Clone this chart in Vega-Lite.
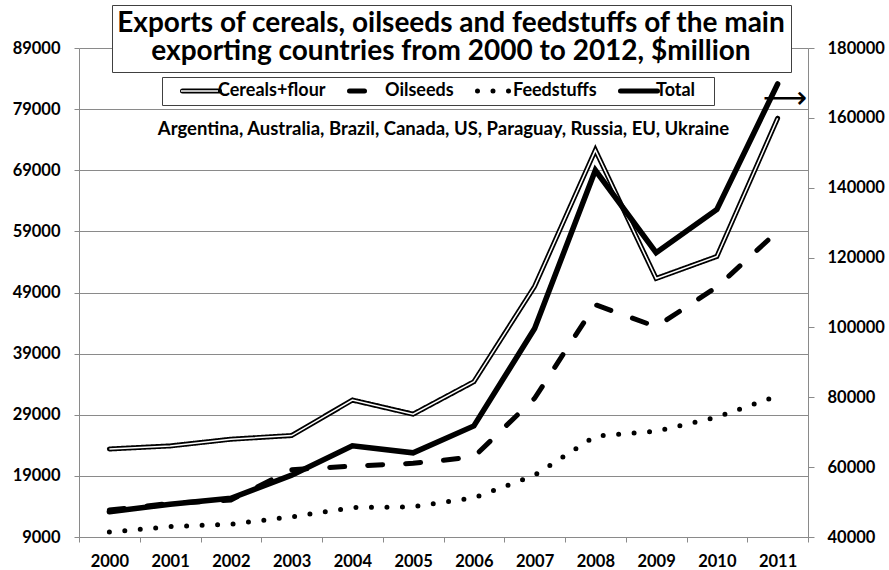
{
  "$schema": "https://vega.github.io/schema/vega-lite/v6.json",
  "width": 729,
  "height": 489,
  "autosize": {"type": "none"},
  "padding": {"left": 79, "top": 48, "right": 81, "bottom": 33},
  "background": "white",
  "config": {
    "font": "Lato",
    "view": {"stroke": null},
    "axis": {
      "labelFont": "Lato",
      "labelFontSize": 16.5,
      "labelFontWeight": "bold",
      "labelColor": "black",
      "domainColor": "#8a8a8a",
      "tickColor": "#8a8a8a",
      "gridColor": "#8a8a8a",
      "gridWidth": 1,
      "title": null
    }
  },
  "title": {
    "text": "Argentina, Australia, Brazil, Canada, US, Paraguay, Russia, EU, Ukraine",
    "font": "Lato",
    "fontSize": 18.5,
    "fontWeight": "bold",
    "color": "black",
    "anchor": "middle",
    "frame": "group",
    "baseline": "alphabetic",
    "offset": -149
  },
  "data": {
    "values": [
      {"year": "2000", "series": "Cereals+flour", "value": 23400},
      {"year": "2001", "series": "Cereals+flour", "value": 23900},
      {"year": "2002", "series": "Cereals+flour", "value": 25000},
      {"year": "2003", "series": "Cereals+flour", "value": 25600},
      {"year": "2004", "series": "Cereals+flour", "value": 31400},
      {"year": "2005", "series": "Cereals+flour", "value": 29100},
      {"year": "2006", "series": "Cereals+flour", "value": 34400},
      {"year": "2007", "series": "Cereals+flour", "value": 50000},
      {"year": "2008", "series": "Cereals+flour", "value": 72300},
      {"year": "2009", "series": "Cereals+flour", "value": 51300},
      {"year": "2010", "series": "Cereals+flour", "value": 54900},
      {"year": "2011", "series": "Cereals+flour", "value": 77500},
      {"year": "2000", "series": "Oilseeds", "value": 13400},
      {"year": "2001", "series": "Oilseeds", "value": 14500},
      {"year": "2002", "series": "Oilseeds", "value": 15050},
      {"year": "2003", "series": "Oilseeds", "value": 20000},
      {"year": "2004", "series": "Oilseeds", "value": 20600},
      {"year": "2005", "series": "Oilseeds", "value": 21050},
      {"year": "2006", "series": "Oilseeds", "value": 22100},
      {"year": "2007", "series": "Oilseeds", "value": 31700},
      {"year": "2008", "series": "Oilseeds", "value": 47000},
      {"year": "2009", "series": "Oilseeds", "value": 43400},
      {"year": "2010", "series": "Oilseeds", "value": 49900},
      {"year": "2011", "series": "Oilseeds", "value": 59000},
      {"year": "2000", "series": "Feedstuffs", "value": 9800},
      {"year": "2001", "series": "Feedstuffs", "value": 10700},
      {"year": "2002", "series": "Feedstuffs", "value": 11100},
      {"year": "2003", "series": "Feedstuffs", "value": 12300},
      {"year": "2004", "series": "Feedstuffs", "value": 13800},
      {"year": "2005", "series": "Feedstuffs", "value": 13950},
      {"year": "2006", "series": "Feedstuffs", "value": 15400},
      {"year": "2007", "series": "Feedstuffs", "value": 19100},
      {"year": "2008", "series": "Feedstuffs", "value": 25500},
      {"year": "2009", "series": "Feedstuffs", "value": 26300},
      {"year": "2010", "series": "Feedstuffs", "value": 28600},
      {"year": "2011", "series": "Feedstuffs", "value": 32100},
      {"year": "2000", "series": "Total", "value": 47200},
      {"year": "2001", "series": "Total", "value": 49400},
      {"year": "2002", "series": "Total", "value": 51100},
      {"year": "2003", "series": "Total", "value": 57700},
      {"year": "2004", "series": "Total", "value": 66100},
      {"year": "2005", "series": "Total", "value": 64100},
      {"year": "2006", "series": "Total", "value": 71800},
      {"year": "2007", "series": "Total", "value": 99700},
      {"year": "2008", "series": "Total", "value": 145000},
      {"year": "2009", "series": "Total", "value": 121400},
      {"year": "2010", "series": "Total", "value": 133800},
      {"year": "2011", "series": "Total", "value": 169700}
    ]
  },
  "encoding": {
    "x": {
      "field": "year",
      "type": "ordinal",
      "scale": {"type": "band", "paddingInner": 0, "paddingOuter": 0},
      "axis": {
        "labelAngle": 0,
        "tickBand": "extent",
        "tickSize": 5,
        "labelPadding": 11,
        "grid": false
      }
    }
  },
  "layer": [
    {
      "encoding": {
        "y": {
          "field": "value",
          "type": "quantitative",
          "scale": {"domain": [9000, 89000], "nice": false, "zero": false},
          "axis": {
            "orient": "left",
            "values": [9000, 19000, 29000, 39000, 49000, 59000, 69000, 79000, 89000],
            "format": "d",
            "grid": true,
            "tickSize": 5,
            "labelPadding": 14,
            "labelFlush": false
          }
        }
      },
      "layer": [
        {
          "transform": [{"filter": "datum.series != 'Total'"}],
          "mark": {"type": "line", "strokeWidth": 5, "strokeCap": "round"},
          "encoding": {
            "color": {
              "field": "series",
              "type": "nominal",
              "scale": {
                "domain": ["Cereals+flour", "Oilseeds", "Feedstuffs", "Total"],
                "range": ["black", "black", "black", "black"]
              },
              "legend": {
                "orient": "none",
                "legendX": 83,
                "legendY": 29,
                "direction": "horizontal",
                "columns": 4,
                "title": " ",
                "titleOrient": "left",
                "titleFontSize": 16,
                "titlePadding": 13,
                "symbolType": "stroke",
                "symbolSize": 1369,
                "symbolStrokeWidth": 5,
                "clipHeight": 18,
                "labelFont": "Lato",
                "labelFontSize": 18,
                "labelFontWeight": "bold",
                "labelColor": "black",
                "labelOffset": -4,
                "labelLimit": 400,
                "labelExpr": "datum.label == 'Total' ? 'Total\u2800' : datum.label",
                "columnPadding": 21,
                "padding": 5,
                "strokeColor": "#404040",
                "fillColor": "white",
                "encoding": {"symbols": {"strokeCap": {"value": "round"}}}
              }
            },
            "strokeDash": {
              "field": "series",
              "type": "nominal",
              "scale": {
                "domain": ["Cereals+flour", "Oilseeds", "Feedstuffs", "Total"],
                "range": [[1, 0], [15, 23], [0, 15.5], [1, 0]]
              }
            }
          }
        },
        {
          "transform": [{"filter": "datum.series == 'Cereals+flour'"}],
          "mark": {"type": "line", "strokeWidth": 1.5},
          "encoding": {
            "stroke": {
              "field": "series",
              "type": "nominal",
              "scale": {"domain": ["Cereals+flour"], "range": ["white"]},
              "legend": {
                "orient": "none",
                "legendX": 83,
                "legendY": 29,
                "direction": "horizontal",
                "columns": 4,
                "title": " ",
                "titleOrient": "left",
                "titleFontSize": 16,
                "titlePadding": 13,
                "symbolType": "stroke",
                "symbolSize": 1369,
                "symbolStrokeWidth": 1.5,
                "clipHeight": 18,
                "labelFont": "Lato",
                "labelFontSize": 18,
                "labelFontWeight": "bold",
                "labelOpacity": 0,
                "labelOffset": -4,
                "columnPadding": 21,
                "padding": 5,
                "zindex": 2
              }
            },
            "opacity": {
              "field": "series",
              "type": "nominal",
              "scale": {"range": [1, 1]},
              "legend": {
                "orient": "none",
                "legendX": 33,
                "legendY": -43,
                "title": [
                  "Exports of cereals, oilseeds and feedstuffs of the main",
                  "exporting countries from 2000 to 2012, $million"
                ],
                "titleFont": "Lato",
                "titleFontSize": 28,
                "titleFontWeight": "bold",
                "titleColor": "black",
                "titleLineHeight": 28.3,
                "titleAlign": "center",
                "titleAnchor": "middle",
                "titlePadding": 0,
                "titleLimit": 2000,
                "symbolSize": 0,
                "symbolStrokeWidth": 0,
                "symbolOpacity": 0,
                "labelExpr": "''",
                "labelFontSize": 1,
                "rowPadding": 0,
                "padding": 5,
                "strokeColor": "#404040",
                "fillColor": "white"
              }
            }
          }
        }
      ]
    },
    {
      "encoding": {
        "y": {
          "field": "value",
          "type": "quantitative",
          "scale": {"domain": [40000, 180000], "nice": false, "zero": false},
          "axis": {
            "orient": "right",
            "values": [40000, 60000, 80000, 100000, 120000, 140000, 160000, 180000],
            "format": "d",
            "grid": false,
            "tickSize": 6,
            "labelPadding": 13,
            "labelFlush": false
          }
        }
      },
      "layer": [
        {
          "transform": [{"filter": "datum.series == 'Total'"}],
          "mark": {"type": "line", "stroke": "black", "strokeWidth": 5.5, "strokeCap": "round"}
        },
        {
          "transform": [{"filter": "datum.series == 'Total' && datum.year == '2011'"}],
          "mark": {
            "type": "text",
            "text": "⟶",
            "font": "DejaVu Sans",
            "fontSize": 31,
            "align": "left",
            "baseline": "middle",
            "dx": -15,
            "color": "black"
          },
          "encoding": {"y": {"datum": 165300}}
        }
      ]
    }
  ],
  "resolve": {"scale": {"y": "independent"}}
}
